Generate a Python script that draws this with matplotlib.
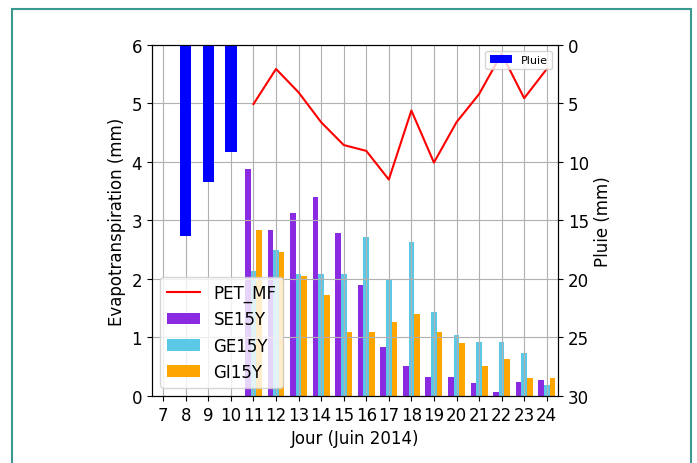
import numpy as np
import matplotlib
matplotlib.use('Agg')
import matplotlib.pyplot as plt
from matplotlib.patches import Rectangle

plt.rcParams['font.size'] = 12

# days of june 2014
days = np.arange(7, 25)
et_days = np.arange(11, 25)

# potential evapotranspiration (mm)
pet_mf = [4.99, 5.59, 5.19, 4.68, 4.29, 4.19, 3.70, 4.88, 3.99, 4.68, 5.16, 5.85, 5.09, 5.59]

# actual evapotranspiration per site (mm)
se15y = [3.88, 2.84, 3.13, 3.41, 2.79, 1.90, 0.83, 0.52, 0.32, 0.33, 0.23, 0.06, 0.24, 0.28]
ge15y = [2.13, 2.50, 2.08, 2.08, 2.08, 2.71, 1.98, 2.64, 1.43, 1.04, 0.93, 0.93, 0.73, 0.19]
gi15y = [2.84, 2.46, 2.05, 1.73, 1.10, 1.10, 1.26, 1.41, 1.10, 0.91, 0.51, 0.63, 0.31, 0.31]

# rain (mm)
rain_days = [8, 9, 10]
pluie = [16.3, 11.7, 9.15]

W = 0.25

fig = plt.figure(figsize=(6.97, 4.64), dpi=100)
ax1 = fig.add_axes([0.218, 0.1444, 0.5826, 0.7565])

ax1.plot(et_days, pet_mf, color='red', lw=1.5, label='PET_MF')
ax1.bar(et_days - W, se15y, width=W, color='blueviolet', label='SE15Y')
ax1.bar(et_days, ge15y, width=W, color='#5bc8e6', label='GE15Y')
ax1.bar(et_days + W, gi15y, width=W, color='orange', label='GI15Y')

ax1.set_xlim(6.5, 24.5)
ax1.set_ylim(0, 6)
ax1.set_xticks(days)
ax1.grid(True)
ax1.set_xlabel('Jour (Juin 2014)')
ax1.set_ylabel('Evapotranspiration (mm)')
ax1.legend(loc='lower left')

ax2 = ax1.twinx()
ax2.bar(rain_days, pluie, width=0.5, color='blue', label='Pluie')
ax2.set_ylim(30, 0)
ax2.set_yticks(np.arange(0, 31, 5))
ax2.set_ylabel('Pluie (mm)')
ax2.legend(loc='upper right', fontsize=8)

# page frame
fig.patches.append(Rectangle((11.5 / 697, -0.05), (691 - 11.5) / 697, 1.05 - 9.5 / 464,
                             transform=fig.transFigure, fill=False,
                             edgecolor='#3a9a90', lw=1.5))

fig.savefig('out.png', dpi=100)
